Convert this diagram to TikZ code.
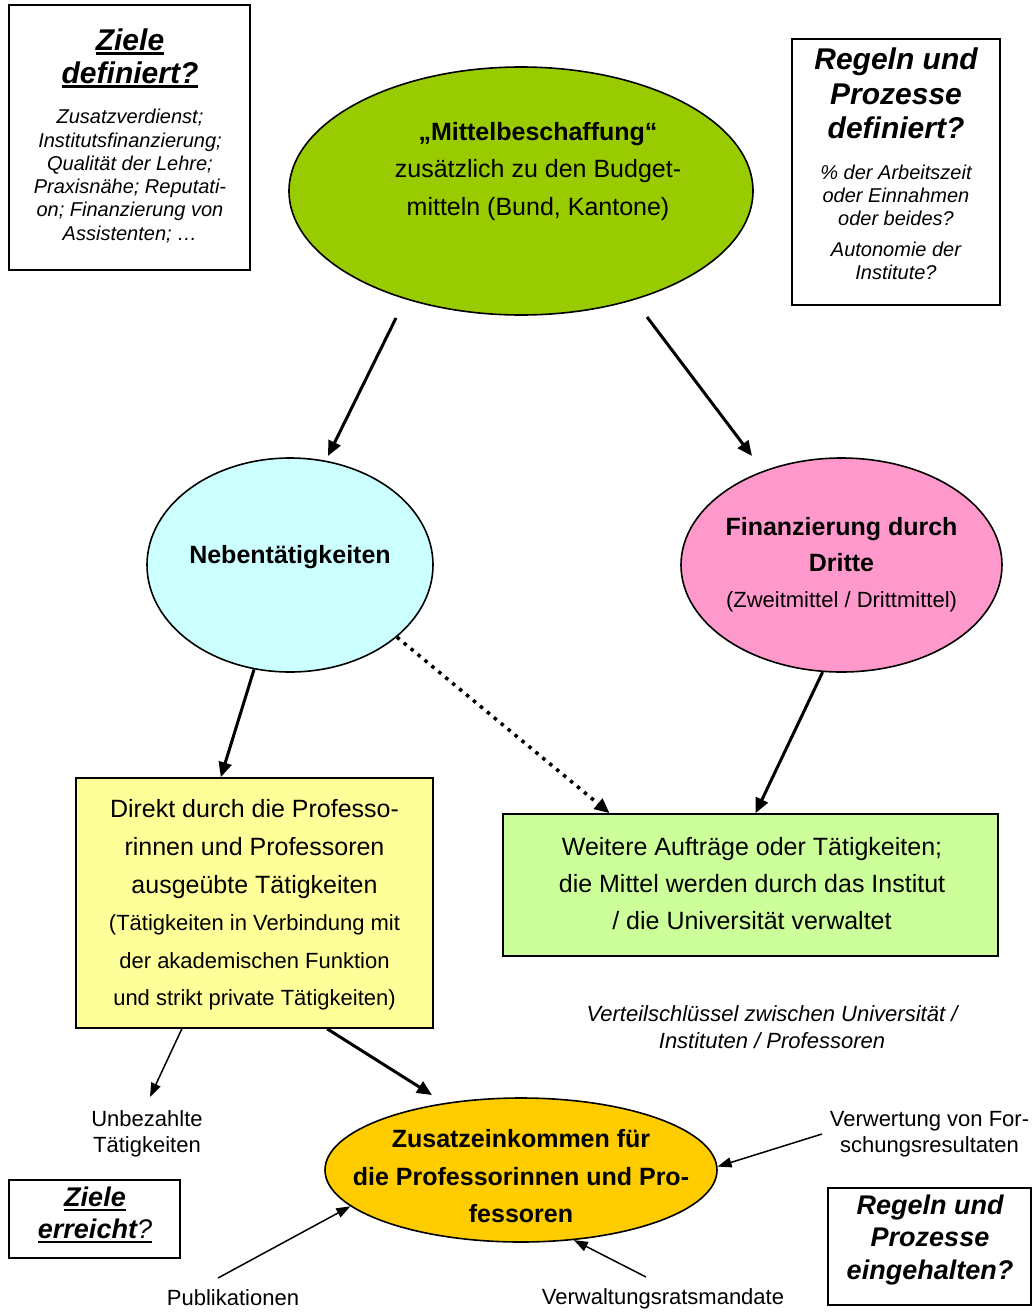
\documentclass[tikz,border=0pt]{standalone}
\usepackage{fontspec}
\setmainfont{Liberation Sans}
\usetikzlibrary{arrows.meta,shapes.geometric}
\definecolor{cMittel}{HTML}{99CC00}
\definecolor{cNeben}{HTML}{CCFFFF}
\definecolor{cDritte}{HTML}{FF99CC}
\definecolor{cDirekt}{HTML}{FFFF99}
\definecolor{cWeitere}{HTML}{CCFF99}
\definecolor{cZusatz}{HTML}{FFCC00}
\newcommand{\setfs}[2]{\fontsize{#1}{#2}\selectfont}
\newcommand{\ulbox}[1]{\setbox0=\hbox{#1}\rlap{\rule[-4.5pt]{\wd0}{2.2pt}}\box0}
\begin{document}
\begin{tikzpicture}[x=1pt,y=-1pt,
  frame/.style={draw, line width=1.6pt, fill=white, inner sep=0pt},
  oval/.style={ellipse, draw, line width=1.6pt, inner sep=0pt},
  txt/.style={align=center, inner sep=0pt},
  bigarrow/.style={line width=3pt, -{Triangle[length=15pt,width=13pt]}},
  smallarrow/.style={line width=1.5pt, -{Triangle[length=14pt,width=10pt]}},
  dotarrow/.style={line width=3.5pt, dash pattern=on 3.5pt off 5.5pt, -{Triangle[length=15pt,width=13pt]}}]
\useasboundingbox (0,0) rectangle (1035,1312);

% top-left box
\node[frame, minimum width=241pt, minimum height=265pt] (zieleDef) at (129.5,137.5) {};
\node[txt, font=\setfs{30}{33}\bfseries\itshape] (zieleDefT) at (130,58) {\ulbox{Ziele}\\\ulbox{definiert?}};
\node[txt, font=\setfs{20}{23.3}\itshape] (zieleDefB) at (130,176) {Zusatzverdienst;\\Institutsfinanzierung;\\Qualität der Lehre;\\Praxisnähe; Reputati-\\on; Finanzierung von\\Assistenten; …};

% top-right box
\node[frame, minimum width=208pt, minimum height=266pt] (regelnDef) at (896,172) {};
\node[txt, font=\setfs{30}{34.5}\bfseries\itshape] (regelnDefT) at (896,93.5) {Regeln und\\Prozesse\\definiert?};
\node[txt, font=\setfs{20}{23}\itshape] (regelnDefB) at (896,222) {\% der Arbeitszeit\\oder Einnahmen\\oder beides?\\[8pt]Autonomie der\\Institute?};

% ellipses
\node[oval, fill=cMittel, minimum width=464pt, minimum height=248pt] (mittel) at (521,191) {};
\node[txt, font=\setfs{25}{37.5}] (mittelT) at (538,171.5) {\textbf{„Mittelbeschaffung“}\\zusätzlich zu den Budget-\\mitteln (Bund, Kantone)};

\node[oval, fill=cNeben, minimum width=286pt, minimum height=214pt] (neben) at (290,565) {};
\node[txt, font=\setfs{25}{37}\bfseries] (nebenT) at (290,557) {Nebentätigkeiten};

\node[oval, fill=cDritte, minimum width=321pt, minimum height=214pt] (dritte) at (841.5,565) {};
\node[txt, font=\setfs{25}{36}\bfseries] (dritteT) at (841.5,545) {Finanzierung durch\\Dritte};
\node[txt, font=\setfs{22}{26}] (dritteS) at (841.5,602) {(Zweitmittel / Drittmittel)};

% yellow box
\node[frame, fill=cDirekt, minimum width=357pt, minimum height=250pt] (direkt) at (254.5,903) {};
\node[txt, font=\setfs{25}{38}] (direktT) at (254.5,849) {Direkt durch die Professo-\\rinnen und Professoren\\ausgeübte Tätigkeiten};
\node[txt, font=\setfs{22}{37.5}] (direktS) at (254.5,962.5) {(Tätigkeiten in Verbindung mit\\der akademischen Funktion\\und strikt private Tätigkeiten)};

% light green box
\node[frame, fill=cWeitere, minimum width=495pt, minimum height=142pt] (weitere) at (750.5,885) {};
\node[txt, font=\setfs{25}{37}] (weitereT) at (752,884) {Weitere Aufträge oder Tätigkeiten;\\die Mittel werden durch das Institut\\/ die Universität verwaltet};

\node[txt, font=\setfs{22}{27}\itshape] (verteil) at (772,1027.5) {Verteilschlüssel zwischen Universität /\\Instituten / Professoren};

% orange ellipse
\node[oval, fill=cZusatz, minimum width=392pt, minimum height=144pt] (zusatz) at (521,1170) {};
\node[txt, font=\setfs{25}{37.5}\bfseries] (zusatzT) at (521,1176.5) {Zusatzeinkommen für\\die Professorinnen und Pro-\\fessoren};

% labels
\node[txt, font=\setfs{22}{26}] (unbez) at (147,1134) {Unbezahlte\\Tätigkeiten};
\node[txt, font=\setfs{22}{26}] (verw) at (929.5,1134) {Verwertung von For-\\schungsresultaten};
\node[txt, font=\setfs{22}{26}] (publ) at (233,1298) {Publikationen};
\node[txt, font=\setfs{22}{26}] (vrm) at (663,1299) {Verwaltungsratsmandate};

% bottom boxes
\node[frame, minimum width=171pt, minimum height=78pt] (erreicht) at (94.5,1219) {};
\node[txt, font=\setfs{27}{32}\itshape] (erreichtT) at (95,1215) {\ulbox{\textbf{Ziele}}\\\ulbox{\textbf{erreicht}?}};
\node[frame, minimum width=203pt, minimum height=117pt] (eingeh) at (929.5,1246.5) {};
\node[txt, font=\setfs{27}{32.5}\bfseries\itshape] (eingehT) at (930,1240) {Regeln und\\Prozesse\\eingehalten?};

% connectors
\coordinate (p1) at (396,318); \coordinate (q1) at (328,456);
\draw[bigarrow] (p1) -- (q1);
\coordinate (p2) at (647,317); \coordinate (q2) at (752,456);
\draw[bigarrow] (p2) -- (q2);
\draw[bigarrow] (neben.251.6) -- (direkt.105.4);
\draw[dotarrow] (neben.326.7) -- (weitere.153.5);
\draw[bigarrow] (dritte.260.8) -- (weitere.86.4);
\coordinate (q6) at (432,1095);
\draw[bigarrow] (direkt.300.1) -- (q6);
\coordinate (q7) at (150,1097);
\draw[smallarrow] (direkt.240.6) -- (q7);
\coordinate (p8) at (822,1134);
\draw[smallarrow] (p8) -- (zusatz.1);
\coordinate (p9) at (218,1278);
\draw[smallarrow] (p9) -- (zusatz.192.3);
\coordinate (p10) at (646,1277);
\draw[smallarrow] (p10) -- (zusatz.307.8);
\end{tikzpicture}
\end{document}
